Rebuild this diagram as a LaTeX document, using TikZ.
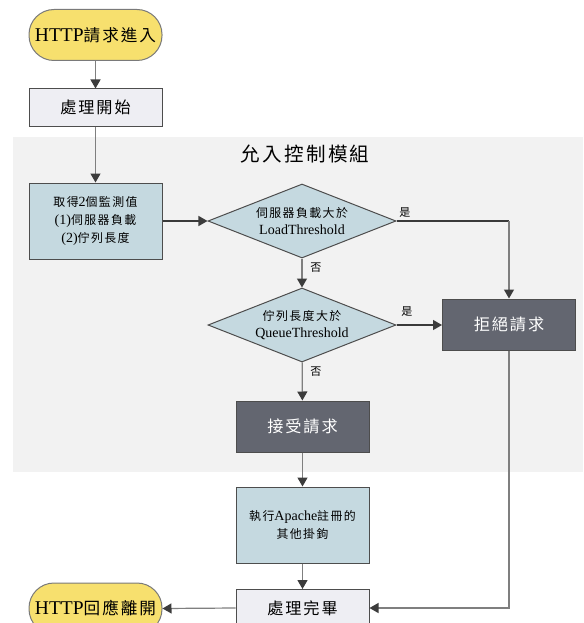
\documentclass[tikz,border=0pt]{standalone}
\usepackage{fontspec}
\setmainfont{Liberation Serif}
\newfontfamily\cjk{Noto Sans CJK TC}[Scale=0.85,LetterSpace=12]
\newcommand\cj[1]{{\cjk #1}}
\usetikzlibrary{arrows.meta,shapes.geometric}
\definecolor{termyellow}{HTML}{F7E06E}
\definecolor{termborder}{HTML}{7A7A7A}
\definecolor{procfill}{HTML}{EEEEF3}
\definecolor{blufill}{HTML}{C5D9E0}
\definecolor{darkfill}{HTML}{636670}
\definecolor{boxborder}{HTML}{4D4D4D}
\definecolor{bgfill}{HTML}{F2F2F2}
\definecolor{linegray}{HTML}{7F7F7F}
\definecolor{linedark}{HTML}{3A3A3A}
\definecolor{tipdark}{HTML}{3C3C3C}
\begin{document}
\begin{tikzpicture}[x=1pt,y=-1pt,
  base/.style={draw=boxborder, line width=1pt, inner sep=0pt, align=center, minimum width=133pt},
  term/.style={base, draw=termborder, fill=termyellow, rounded corners=25pt, minimum height=51pt, font=\fontsize{19.5}{22}\selectfont},
  proc/.style={base, fill=procfill, minimum height=37pt, font=\fontsize{19}{22}\selectfont},
  blue/.style={base, fill=blufill, font=\fontsize{14}{18}\selectfont},
  dark/.style={base, fill=darkfill, text=white, minimum height=51pt, font=\fontsize{19}{22}\selectfont},
  dia/.style={diamond, draw=boxborder, line width=1pt, fill=blufill, inner sep=0pt, aspect=2.5, align=center, font=\fontsize{14}{17}\selectfont},
  lbl/.style={inner sep=0pt, font=\fontsize{13}{13}\selectfont},
  conn/.style={draw=linegray, line width=1.2pt, -{Triangle[length=9pt,width=10pt,color=tipdark]}},
  hconn/.style={conn, draw=linedark},
  plain/.style={draw=linegray, line width=1.2pt},
  hplain/.style={draw=linedark, line width=1.2pt}
]
\clip (0,0) rectangle (583,623);
\fill[white] (0,0) rectangle (583,623);
\fill[bgfill] (13,137) rectangle (583,472);

\node[inner sep=0pt, font=\fontsize{23}{23}\selectfont] (title) at (305,154) {\cj{允入控制模組}};

\node[term] (start) at (95.5,35) {HTTP\cj{請求進入}};
\node[proc] (p1) at (95.5,107.5) {\cj{處理開始}};
\node[blue, minimum height=76pt] (get) at (95.5,221) {\cj{取得}2\cj{個監測值}\\(1)\cj{伺服器負載}\\(2)\cj{佇列長度}};
\node[dia, minimum width=188pt, minimum height=74pt] (d1) at (302,221) {\cj{伺服器負載大於}\\LoadThreshold};
\node[dia, minimum width=188pt, minimum height=74pt] (d2) at (302,325) {\cj{佇列長度大於}\\QueueThreshold};
\node[dark] (rej) at (509,324.5) {\cj{拒絕請求}};
\node[dark] (acc) at (302.5,426.5) {\cj{接受請求}};
\node[blue, minimum height=76pt] (ex) at (302.5,525) {\cj{執行}Apache\cj{註冊的}\\\cj{其他掛鉤}};
\node[proc] (done) at (302.5,608) {\cj{處理完畢}};
\node[term] (end) at (95.5,608.5) {HTTP\cj{回應離開}};

\node[lbl] (y1) at (405,213) {\cj{是}};
\node[lbl] (y2) at (407,312) {\cj{是}};
\node[lbl] (n1) at (316,268) {\cj{否}};
\node[lbl] (n2) at (316,372) {\cj{否}};

\coordinate (c1) at (d1.east -| rej.north);
\draw[conn] (start) -- (p1);
\draw[conn] (p1) -- (get);
\draw[hconn] (get) -- (d1);
\draw[hplain] (d1.east) -- (c1);
\draw[conn] (c1) -- (rej.north);
\draw[conn] (d1) -- (d2);
\draw[hconn] (d2.east) -- (d2.east -| rej.west);
\draw[conn] (d2) -- (acc);
\draw[conn] (acc) -- (ex);
\draw[conn] (ex) -- (done);
\draw[conn] (rej.south) |- (done.east);
\draw[conn] (done.west) -- (end.east);
\end{tikzpicture}
\end{document}
